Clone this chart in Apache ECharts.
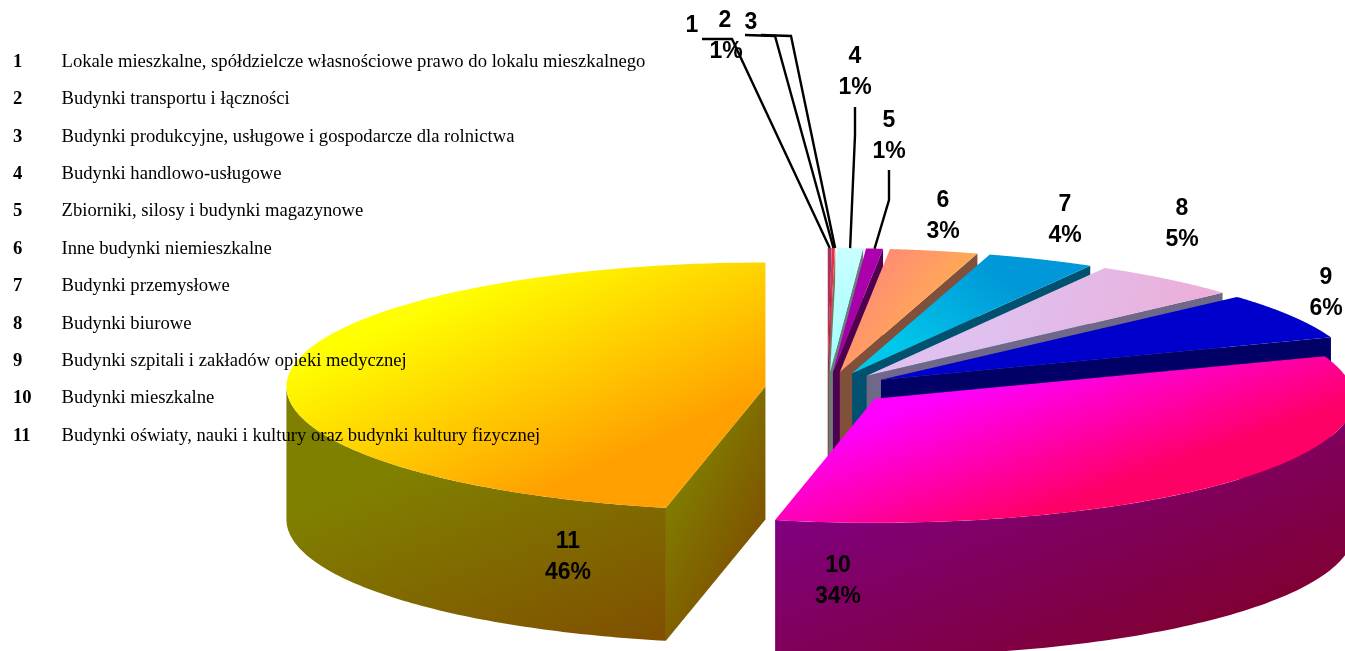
<!DOCTYPE html>
<html><head><meta charset="utf-8">
<style>html,body{margin:0;padding:0;background:#fff;overflow:hidden}#c{width:1345px;height:651px}</style>
<script src="https://cdn.jsdelivr.net/npm/echarts@6/dist/echarts.min.js"></script>
</head><body><div id="c"></div>
<script>
const ids = ['1','2','3','4','5','6','7','8','9','10','11'];
const names = [
 'Lokale mieszkalne, spółdzielcze własnościowe prawo do lokalu mieszkalnego',
 'Budynki transportu i łączności',
 'Budynki produkcyjne, usługowe i gospodarcze dla rolnictwa',
 'Budynki handlowo-usługowe',
 'Zbiorniki, silosy i budynki magazynowe',
 'Inne budynki niemieszkalne',
 'Budynki przemysłowe',
 'Budynki biurowe',
 'Budynki szpitali i zakładów opieki medycznej',
 'Budynki mieszkalne',
 'Budynki oświaty, nauki i kultury oraz budynki kultury fizycznej'];
const values = [0.13,0.09,0.01,0.87,0.57,2.97,3.64,5.05,6.1,33.9,46.67];
const percentLabels = ['','1%','','1%','1%','3%','4%','5%','6%','34%','46%'];

// styles: [start colour, end colour, gradient x, y, x2, y2 relative to the shape's box]
const topFill = [
 ['#A83060','#C03058',0,0,1,1],['#E83040','#E03048',0,0,1,1],['#F0D0C0','#F0D0C0',0,0,1,1],
 ['#CCFFFF','#99FFFF',0,0,1,1],['#B000B0','#A000A0',0,0,1,1],
 ['#FF8080','#FFAA55',0.1,0,0.7,0.5],['#0098D8','#00C8EA',0.5,0,0.2,0.8],['#DFC0EE','#EDADD8',0.4,0,1,0.4],
 ['#0000CC','#0000CC',0,0,1,1],['#FF00FF','#FF0066',0.048,0.524,0.131,1.343],['#FFFF00','#FFA000',0.084,0.36,0.27,1.17]];
const wallFill = [
 ['#4D1A33','#4D1A33',0,0,1,1],['#801A1A','#801A1A',0,0,1,1],['#807060','#807060',0,0,1,1],
 ['#668080','#668080',0,0,1,1],['#500050','#500050',0,0,1,1],
 ['#80503A','#80503A',0,0,1,1],['#005070','#005070',0,0,1,1],['#706888','#706888',0,0,1,1],
 ['#000066','#000066',0,0,1,1],['#800080','#800033',0.09,0.405,0.242,1.323],['#808000','#804F00',0.11,0.445,0.343,1.37]];
const sideFill = ['#808000','#7F5000',0,0.4,1,0.6];
const geom = {cx:827.5, cy:388.2, rx:479, ry:124, explode:62.4, depth:133};
const labelPos = [[692,26],[725,21],[751,23],[855,57],[889,121],[943,201],[1065,205],[1182,209],[1326,278],[838,566],[568,542]];
const percentGap = 31;
const leaderStart = [[[702,39],[732,39]],[[745,35],[775,36]],[[761,35],[791,36]],[[855,107],[855,135]],[[889,170],[889,200]]];

const total = values.reduce((a,b)=>a+b,0);
const rad = d => d*Math.PI/180;
let acc = 0;
const spans = values.map(v => { const s = acc/total*360; acc += v; return [s, acc/total*360]; });
const G = f => new echarts.graphic.LinearGradient(f[2],f[3],f[4],f[5],[{offset:0,color:f[0]},{offset:1,color:f[1]}]);

function apex(i){
  const m = rad((spans[i][0]+spans[i][1])/2);
  return [geom.cx+geom.explode*Math.sin(m), geom.cy-geom.explode*geom.ry/geom.rx*Math.cos(m)];
}
function rim(c,deg,dy){ const a=rad(deg); return [c[0]+geom.rx*Math.sin(a), c[1]-geom.ry*Math.cos(a)+(dy||0)]; }

function renderSlice(params){
  const i = params.dataIndex, [a0,a1] = spans[i], c = apex(i), d = geom.depth;
  const kids = [];
  const poly = (pts, fill) => kids.push({type:'polygon', shape:{points:pts}, style:{fill, stroke:null}, silent:true});
  if (Math.sin(rad(a1))>0.001) poly([c,rim(c,a1),rim(c,a1,d),[c[0],c[1]+d]], G(wallFill[i]));
  if (Math.sin(rad(a0))<-0.001) poly([c,rim(c,a0),rim(c,a0,d),[c[0],c[1]+d]], G(sideFill));
  const lo = Math.max(a0,90), hi = Math.min(a1,270);
  if (hi>lo){
    const up=[],dn=[];
    for(let k=0;k<=90;k++){ const t=lo+(hi-lo)*k/90; up.push(rim(c,t)); dn.unshift(rim(c,t,d)); }
    poly(up.concat(dn), G(wallFill[i]));
  }
  const pts=[c];
  for(let k=0;k<=120;k++) pts.push(rim(c,a0+(a1-a0)*k/120));
  poly(pts, G(topFill[i]));
  return {type:'group', children:kids, z2:i};
}
function renderLeader(params){
  const i = params.dataIndex, s = leaderStart[i];
  const end = rim(apex(i),(spans[i][0]+spans[i][1])/2);
  return {type:'polyline', shape:{points:s.concat([end])}, style:{stroke:'#000',lineWidth:2.4,fill:null}, silent:true};
}

const textEls = [];
ids.forEach((id,i)=>{
  const y = 62+i*37.4;
  textEls.push({type:'text',x:13,y,z:100,style:{text:id,font:'bold 18.65px "Liberation Serif"',fill:'#000',textVerticalAlign:'middle'}});
  textEls.push({type:'text',x:61.5,y,z:100,style:{text:names[i],font:'18.65px "Liberation Serif"',fill:'#000',textVerticalAlign:'middle'}});
  const p = labelPos[i];
  textEls.push({type:'text',x:p[0],y:p[1],z:100,style:{text:id,font:'bold 23px "Liberation Sans"',fill:'#000',textAlign:'center',textVerticalAlign:'middle'}});
  if(percentLabels[i]) textEls.push({type:'text',x:i==1?726:p[0],y:p[1]+percentGap,z:100,style:{text:percentLabels[i],font:'bold 23px "Liberation Sans"',fill:'#000',textAlign:'center',textVerticalAlign:'middle'}});
});

const chart = echarts.init(document.getElementById('c'),null,{renderer:'canvas'});
chart.setOption({
  animation:false,
  backgroundColor:'#fff',
  series:[
    {type:'custom',coordinateSystem:'none',silent:true,clip:false,z:2,data:values,renderItem:renderSlice},
    {type:'custom',coordinateSystem:'none',silent:true,clip:false,z:3,data:values.slice(0,5),renderItem:renderLeader}
  ],
  graphic:{elements:textEls}
});
</script></body></html>
